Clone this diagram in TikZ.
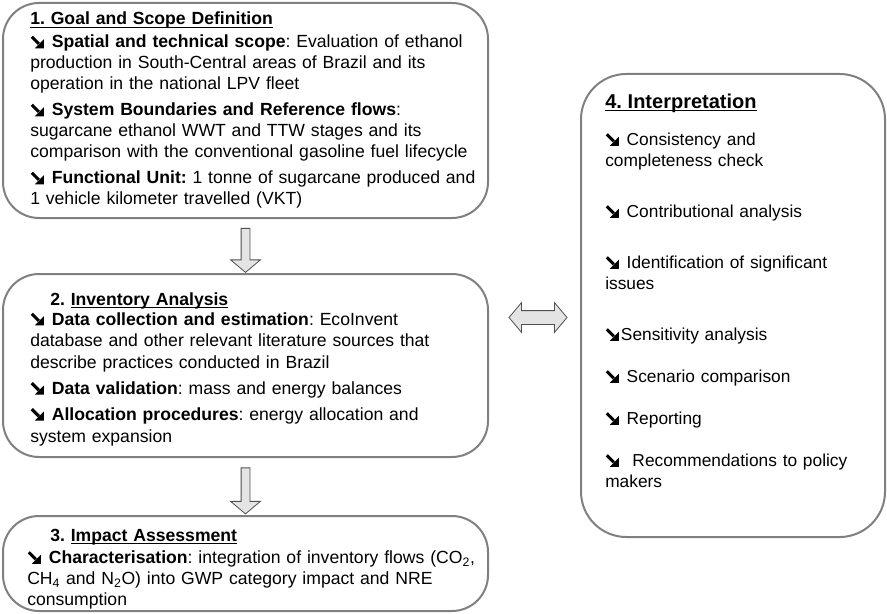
\documentclass[tikz,border=0pt]{standalone}
\usepackage{fontspec}
\setmainfont{Liberation Sans}
\usetikzlibrary{shapes.arrows,positioning,calc}
\frenchspacing

\definecolor{boxline}{RGB}{128,128,128}
\definecolor{arrowfill}{RGB}{228,228,228}
\definecolor{arrowline}{RGB}{80,80,80}

% heavy south-east arrow used as bullet
\newcommand{\mk}{\tikz[baseline=0pt,x=1pt,y=1pt]{\draw[line width=2.3pt] (0.9,8.4) -- (6.2,3.1); \fill (10,-0.2) -- (10,6.6) -- (3.2,-0.2) -- cycle;}\hspace{1.5pt}}
\newcommand{\ttl}[1]{\underline{\smash{#1}}}

\tikzstyle{phase} = [draw=boxline,line width=1.5pt,rectangle,rounded corners=27pt,inner sep=0pt,outer sep=0pt]
\tikzstyle{phasetext} = [anchor=base west,align=left,inner sep=0pt,text width=360pt,font=\fontsize{13.2}{15.75}\selectfont]
\tikzstyle{flow} = [single arrow,draw=arrowline,fill=arrowfill,line width=0.6pt,rotate=-90,minimum width=21.75pt,inner sep=3pt,single arrow head extend=7.875pt,single arrow tip angle=100]
\tikzstyle{link} = [double arrow,draw=arrowline,fill=arrowfill,line width=0.6pt,minimum height=43.5pt,minimum width=21.75pt,inner sep=4.875pt,double arrow head extend=6pt,double arrow tip angle=100]

\begin{document}
\begin{tikzpicture}[x=0.75pt,y=-0.75pt]
	\useasboundingbox (0,0) rectangle (887,613);
	% the four phases
	\node (goal) [phase,anchor=north west,minimum width=363.75pt,minimum height=161.25pt] at (3,3) {};
	\node (inv) [phase,below=42pt of goal,minimum width=363.75pt,minimum height=137.25pt] {};
	\node (impact) [phase,below=44.25pt of inv,minimum width=363.75pt,minimum height=71.25pt] {};
	\node (interp) [phase,anchor=north west,rounded corners=34pt,minimum width=228pt,minimum height=347.25pt] at (581,74) {};
	% contents
	\node (goaltxt) [phasetext] at (30,25) {\textbf{\ttl{1. Goal and Scope Definition}}\\[1.5pt]
		\mk\ \textbf{Spatial and technical scope}: Evaluation of ethanol\\
		production in South-Central areas of Brazil and its\\
		operation in the national LPV fleet\\[3.75pt]
		\mk\ \textbf{System Boundaries and Reference flows}:\\
		sugarcane ethanol WWT and TTW stages and its\\
		comparison with the conventional gasoline fuel lifecycle\\[3.75pt]
		\mk\ \textbf{Functional Unit:} 1 tonne of sugarcane produced and\\
		1 vehicle kilometer travelled (VKT)};
	\node (invtxt) [phasetext,font=\fontsize{13.2}{16.25}\selectfont] at (30,305) {\hspace*{15pt}\textbf{2. \ttl{Inventory Analysis}}\\[-1.25pt]
		\mk\ \textbf{Data collection and estimation}: EcoInvent\\
		database and other relevant literature sources that\\
		describe practices conducted in Brazil\\[3.25pt]
		\mk\ \textbf{Data validation}: mass and energy balances\\[3.25pt]
		\mk\ \textbf{Allocation procedures}: energy allocation and\\
		system expansion};
	\node (impacttxt) [phasetext] at (27,541.5) {\hspace*{17.25pt}\textbf{3. \ttl{Impact Assessment}}\\[0.75pt]
		\mk\ \textbf{Characterisation}: integration of inventory flows (CO\textsubscript{2},\\
		CH\textsubscript{4} and N\textsubscript{2}O) into GWP category impact and NRE\\
		consumption};
	\node (interptxt) [phasetext,text width=210pt,font=\fontsize{13}{15.75}\selectfont] at (605,108.5) {{\fontsize{15}{15}\selectfont\textbf{\ttl{4. Interpretation}}}\\[12pt]
		\mk\ Consistency and\\
		completeness check\\[22.5pt]
		\mk\ Contributional analysis\\[22.5pt]
		\mk\ Identification of significant\\
		issues\\[22.5pt]
		\mk Sensitivity analysis\\[15.75pt]
		\mk\ Scenario comparison\\[15.75pt]
		\mk\ Reporting\\[15.75pt]
		\mk\ \ Recommendations to policy\\
		makers};
	% block arrows
	\node (a12) [flow,minimum height=33pt,xshift=1.9pt] at ($(goal.south)!0.5!(inv.north)$) {};
	\node (a23) [flow,minimum height=34.5pt,xshift=1.9pt] at ($(inv.south)!0.5!(impact.north)$) {};
	\node (a24) [link] at (538,317.5) {};
\end{tikzpicture}
\end{document}
